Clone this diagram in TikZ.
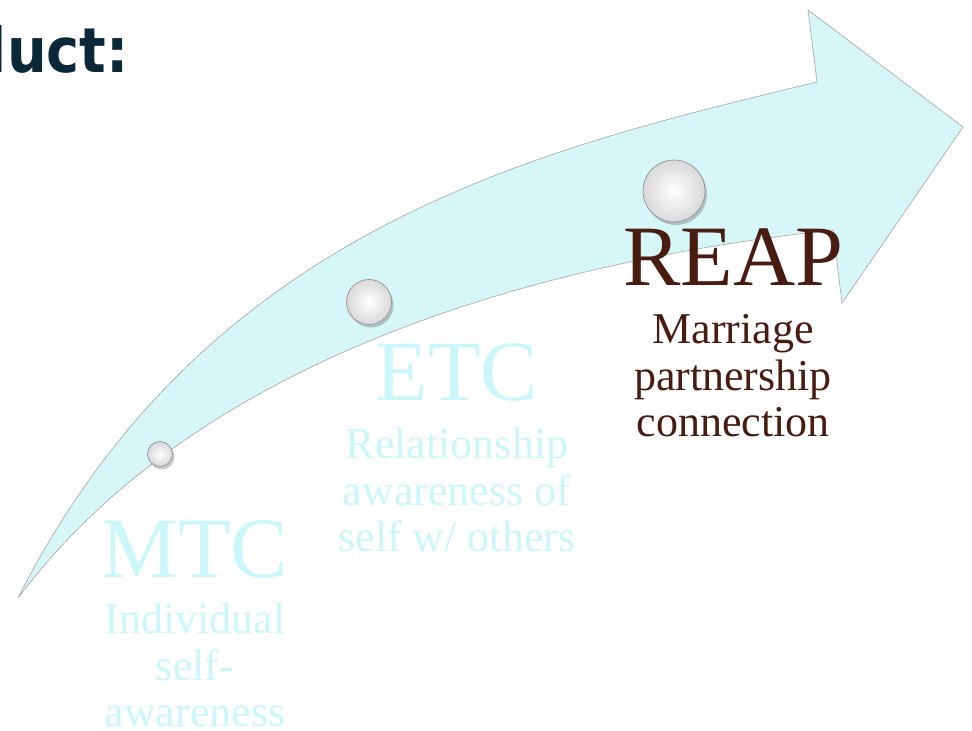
\documentclass[tikz,border=0pt]{standalone}
\usepackage{fontspec}
\setmainfont{Liberation Serif}
\newfontfamily\headfont[FakeStretch=0.9]{DejaVu Sans}
\usetikzlibrary{positioning,shadows}
\definecolor{arrowlight}{RGB}{214,246,248}
\definecolor{arrowmid}{RGB}{184,225,230}
\definecolor{palecyan}{RGB}{204,247,250}
\definecolor{reapbrown}{RGB}{72,28,16}
\definecolor{titlenavy}{RGB}{10,40,56}

\begin{document}
\begin{tikzpicture}[x=1pt,y=-1pt,
  bigname/.style={font=\fontsize{86}{86}\selectfont, anchor=base, inner sep=0pt},
  subname/.style={font=\fontsize{44}{46.5}\selectfont, align=center, inner sep=0pt},
  pearl/.style={circle, inner sep=0pt, draw=gray!85, line width=.7pt,
    inner color=white, outer color=gray!30,
    drop shadow={shadow xshift=2pt, shadow yshift=-3pt, opacity=.3, fill=black!70}}]
\useasboundingbox (0,0) rectangle (972,731);
\node[font=\headfont\bfseries\fontsize{62}{62}\selectfont, text=titlenavy, anchor=base east, inner sep=0pt] (title) at (129,72) {luct:};
% the big arrow
\draw[gray!70, line width=.6pt, left color=arrowlight, middle color=arrowmid, right color=arrowlight]
  (18,598) .. controls (207,224) and (545,148) .. (817,82)
  -- (808,10) -- (963,127) -- (842,303) -- (833,230)
  .. controls (536,262) and (198,358) .. (18,598) -- cycle;
% pearls on the arrow
\foreach \nm/\px/\py/\d in {mtc/160/454/25, etc/369/302/45, reap/674/191/62}
  \node[pearl, minimum size=\d pt] (\nm pearl) at (\px,\py) {};
% labels
\node[bigname, text=palecyan] (mtc) at (195,577) {MTC};
\node[subname, text=palecyan, below=25pt of mtc] (mtcsub) {Individual\\self-\\awareness};
\node[bigname, text=palecyan] (etc) at (457,400) {ETC};
\node[subname, text=palecyan, below=27pt of etc] (etcsub) {Relationship\\awareness of\\self w/ others};
\node[bigname, text=reapbrown] (reap) at (733,285) {REAP};
\node[subname, text=reapbrown, below=29pt of reap] (reapsub) {Marriage\\partnership\\connection};
\end{tikzpicture}
\end{document}
